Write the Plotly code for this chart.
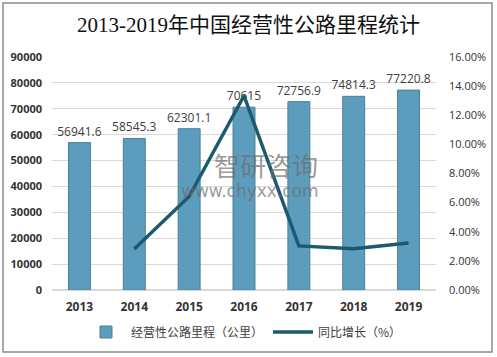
import plotly.graph_objects as go

years = ["2013", "2014", "2015", "2016", "2017", "2018", "2019"]
mileage = [56941.6, 58545.3, 62301.1, 70615, 72756.9, 74814.3, 77220.8]
mileage_labels = ["56941.6", "58545.3", "62301.1", "70615", "72756.9", "74814.3", "77220.8"]
growth = [None, 2.82, 6.42, 13.34, 3.03, 2.83, 3.22]
left_ticks = [0, 10000, 20000, 30000, 40000, 50000, 60000, 70000, 80000, 90000]
right_ticks = [0, 2, 4, 6, 8, 10, 12, 14, 16]
right_labels = ["0.00%", "2.00%", "4.00%", "6.00%", "8.00%", "10.00%", "12.00%", "14.00%", "16.00%"]

W, H = 497, 357
L, R, T, B = 52, 61, 57, 67
pw, ph = W - L - R, H - T - B

fig = go.Figure()
fig.add_trace(go.Bar(
    x=years, y=mileage, name="经营性公路里程（公里）",
    marker=dict(color="#5c9dbd", line=dict(color="#4a7f98", width=1)),
    width=0.4,
    text=mileage_labels, textposition="outside", constraintext="none",
    textfont=dict(size=12, color="#404040", family="Open Sans, Noto Sans CJK SC"),
    cliponaxis=False,
))
fig.add_trace(go.Scatter(
    x=years, y=growth, name="同比增长（%）", yaxis="y2",
    mode="lines", line=dict(color="#1b5a6f", width=3.5),
))

def px2paper_x(px):
    return (px - L) / pw

def px2paper_y(py):
    return (H - B - py) / ph

fig.add_shape(type="rect", xref="paper", yref="paper",
              x0=px2paper_x(3), x1=px2paper_x(492), y0=px2paper_y(352), y1=px2paper_y(3),
              line=dict(color="#8c8c8c", width=1.5), layer="below")

fig.add_annotation(text="智研咨询", xref="paper", yref="paper",
                   x=px2paper_x(266), y=px2paper_y(164), showarrow=False,
                   font=dict(size=26, color="rgba(110,110,110,0.7)", family="Noto Sans CJK SC"))
fig.add_annotation(text="www.chyxx.com", xref="paper", yref="paper",
                   x=px2paper_x(250), y=px2paper_y(191), showarrow=False,
                   font=dict(size=17, color="rgba(110,110,110,0.7)", family="DejaVu Sans"))

fig.update_layout(
    width=W, height=H,
    margin=dict(l=L, r=R, t=T, b=B, autoexpand=False),
    paper_bgcolor="white", plot_bgcolor="white",
    title=dict(text="2013-2019年中国经营性公路里程统计", x=0.5, xanchor="center",
               y=1 - 25 / H, yanchor="middle", automargin=False,
               font=dict(size=21, color="#111111", family="Liberation Serif, Noto Sans CJK SC")),
    bargap=0.6,
    showlegend=True,
    legend=dict(orientation="h", x=0.5, xanchor="center", y=px2paper_y(332), yanchor="middle",
                font=dict(size=12, color="#404040", family="Noto Sans CJK SC"),
                itemwidth=40, traceorder="normal"),
    xaxis=dict(type="category", showgrid=False, showline=False, ticks="", automargin=False,
               ticklabelstandoff=8,
               tickfont=dict(size=12, color="#333333", family="Open Sans, Noto Sans CJK SC", weight="bold")),
    yaxis=dict(range=[0, 90000], tickvals=left_ticks, ticktext=[str(v) for v in left_ticks],
               showgrid=True, gridcolor="#d9d9d9", gridwidth=1, zeroline=True, automargin=False,
               zerolinecolor="#d9d9d9", ticks="", ticklabelstandoff=9,
               tickfont=dict(size=11, color="#333333", family="Open Sans", weight="bold")),
    yaxis2=dict(range=[0, 16], overlaying="y", side="right", tickvals=right_ticks,
                ticktext=right_labels, showgrid=False, zeroline=False, ticks="", automargin=False,
                ticklabelstandoff=12,
                tickfont=dict(size=11, color="#333333", family="Open Sans")),
)

fig.write_html("out.html", config={"displayModeBar": False},
               post_script="document.body.style.margin='0';document.body.style.padding='0';")
